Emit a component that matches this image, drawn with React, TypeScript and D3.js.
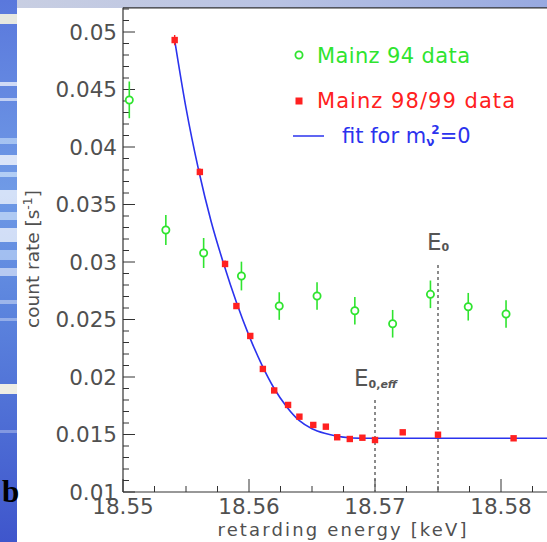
import React from "react";
import * as d3 from "d3";

// ---- data ----
const greenX = [18.5505, 18.5534, 18.5564, 18.5594, 18.5624, 18.5654, 18.5684, 18.5714, 18.5744, 18.5774, 18.5804];
const greenY = [0.04409, 0.03278, 0.03078, 0.02878, 0.02617, 0.02704, 0.02576, 0.02463, 0.02719, 0.02611, 0.02548];
const greenErr = [0.0016, 0.0013, 0.0013, 0.00125, 0.0012, 0.0012, 0.0012, 0.0012, 0.0012, 0.0012, 0.0012];

const redX = [18.5541, 18.5561, 18.5581, 18.559, 18.5601, 18.5611, 18.562, 18.5631, 18.564, 18.5651, 18.5661, 18.567, 18.568, 18.569, 18.570, 18.5722, 18.575, 18.581];
const redY = [0.0493, 0.03783, 0.02983, 0.02617, 0.02357, 0.0207, 0.01883, 0.01757, 0.01655, 0.01583, 0.01568, 0.01476, 0.01461, 0.01472, 0.01452, 0.01519, 0.01498, 0.01467];
const redErr = [0.00045, 0.0003, 0.0003, 0.00025, 0.00025, 0.0002, 0.0002, 0.0002, 0.0002, 0.0002, 0.0002, 0.0002, 0.0002, 0.0002, 0.0002, 0.0002, 0.0002, 0.0002];

const fitX = [18.5541, 18.555, 18.556, 18.557, 18.558, 18.559, 18.56, 18.561, 18.562, 18.563, 18.564, 18.565, 18.566, 18.567, 18.568, 18.569, 18.57, 18.586];
const fitY = [0.0493, 0.0434, 0.038, 0.0335, 0.0298, 0.0265, 0.0236, 0.0211, 0.019, 0.0174, 0.0162, 0.0155, 0.0151, 0.01485, 0.01472, 0.01468, 0.01467, 0.01467];

const xTickLabels = ["18.55", "18.56", "18.57", "18.58"];
const yTickLabels = ["0.01", "0.015", "0.02", "0.025", "0.03", "0.035", "0.04", "0.045", "0.05"];

const E0 = 18.575;
const E0eff = 18.57;

// ---- layout ----
const W = 547, H = 542;
const X0 = 123, Y0 = 492;
const x = d3.scaleLinear().domain([18.55, 18.58]).range([X0, 501]);
const y = d3.scaleLinear().domain([0.01, 0.05]).range([Y0, 32]);
const xMax = 18.586;
const yMax = 0.0521;

const GREEN = "#2fe42f";
const RED = "#ff2020";
const BLUE = "#2b33ee";
const AXIS = "#333";
const TXT = "#505050";
const FONT = "DejaVu Sans, Verdana, sans-serif";

const streaks = [
  [14, 10, 0.85, "#fffbe0"], [82, 4, 0.7, "#ffffff"], [98, 3, 0.6, "#ffffff"],
  [138, 6, 0.5, "#e0f4ff"], [155, 10, 0.75, "#ffffff"], [172, 5, 0.6, "#dff2ff"],
  [190, 14, 0.7, "#ffffff"], [212, 8, 0.55, "#e8f6ff"], [228, 14, 0.7, "#ffffff"],
  [250, 10, 0.5, "#e0f0ff"], [268, 8, 0.55, "#ffffff"], [300, 4, 0.4, "#ffffff"],
  [318, 3, 0.35, "#ffffff"], [384, 10, 0.9, "#fffbe6"], [430, 3, 0.3, "#ffffff"],
];

export default function App() {
  const xMinor = d3.range(18.55, xMax + 1e-9, 0.0025);
  const yMinor = d3.range(0.01, yMax + 1e-9, 0.001);
  const fitLine = d3
    .line<number>()
    .x((_, i) => x(fitX[i]))
    .y((d) => y(d))
    .curve(d3.curveMonotoneX)(fitY) as string;

  const top = y(yMax);

  return (
    <svg
      width={W}
      height={H}
      style={{ position: "absolute", left: 0, top: 0, background: "#fff" }}
      xmlns="http://www.w3.org/2000/svg"
    >
      <defs>
        <linearGradient id="leftBg" x1="0" y1="0" x2="0" y2="1">
          <stop offset="0" stopColor="#5a78dc" />
          <stop offset="0.35" stopColor="#6f9ae6" />
          <stop offset="0.55" stopColor="#5d86de" />
          <stop offset="1" stopColor="#3f56cc" />
        </linearGradient>
        <linearGradient id="topBg" x1="0" y1="0" x2="1" y2="0">
          <stop offset="0" stopColor="#c9cfe2" />
          <stop offset="0.5" stopColor="#b9c3e3" />
          <stop offset="1" stopColor="#97a9e0" />
        </linearGradient>
        <clipPath id="plotClip">
          <rect x={X0} y={top} width={W - X0} height={Y0 - top} />
        </clipPath>
      </defs>

      {/* background decoration */}
      <rect x={0} y={0} width={W} height={H} fill="#fff" />
      <rect x={0} y={0} width={W} height={8} fill="url(#topBg)" />
      <rect x={0} y={0} width={17} height={H} fill="url(#leftBg)" />
      {streaks.map(([sy, sh, op, c], i) => (
        <rect key={i} x={0} y={sy as number} width={17} height={sh as number} fill={c as string} opacity={op as number} />
      ))}

      {/* frame */}
      <line x1={X0} x2={W} y1={top} y2={top} stroke={AXIS} strokeWidth={1.2} />
      <line x1={X0} x2={X0} y1={top} y2={Y0} stroke={AXIS} strokeWidth={1.2} />
      <line x1={X0} x2={W} y1={Y0} y2={Y0} stroke={AXIS} strokeWidth={1.2} />

      {/* y ticks */}
      {yMinor.map((v, i) => {
        const major = Math.abs(Math.round(v * 1000) % 5) === 0;
        return (
          <line key={"ym" + i} x1={X0} x2={X0 + (major ? 12 : 6)} y1={y(v)} y2={y(v)} stroke={AXIS} strokeWidth={1} />
        );
      })}
      {yTickLabels.map((t) => (
        <text key={"yl" + t} x={117} y={y(+t)} textAnchor="end" dominantBaseline="central" fontFamily={FONT} fontSize={21.5} fill={TXT}>
          {t}
        </text>
      ))}

      {/* x ticks */}
      {xMinor.map((v, i) => {
        const major = i % 4 === 0;
        const px = x(v);
        if (px > W) return null;
        return <line key={"xm" + i} x1={px} x2={px} y1={Y0} y2={Y0 - (major ? 13 : 6)} stroke={AXIS} strokeWidth={1} />;
      })}
      {xTickLabels.map((t) => (
        <text key={"xl" + t} x={x(+t)} y={514} textAnchor="middle" fontFamily={FONT} fontSize={21.5} fill={TXT}>
          {t}
        </text>
      ))}

      {/* axis titles */}
      <text x={342} y={536} textAnchor="middle" fontFamily={FONT} fontSize={18} fill={TXT} textLength={249} lengthAdjust="spacing">
        retarding energy  [keV]
      </text>
      <text
        transform={`translate(39,${259}) rotate(-90)`}
        textAnchor="middle"
        fontFamily={FONT}
        fontSize={18.5}
        fill={TXT}
      >
        count rate  [s<tspan dy={-7} fontSize={12.5}>-1</tspan><tspan dy={7}>]</tspan>
      </text>

      {/* "b" label */}
      <text x={2} y={502} fontFamily="Liberation Serif, Times New Roman, serif" fontWeight="bold" fontSize={31} fill="#000">
        b
      </text>

      <g clipPath="url(#plotClip)">
        {/* E0 markers */}
        <line x1={x(E0)} x2={x(E0)} y1={265} y2={Y0} stroke="#666" strokeWidth={1.5} strokeDasharray="3,3" />
        <line x1={x(E0eff)} x2={x(E0eff)} y1={400} y2={Y0} stroke="#666" strokeWidth={1.5} strokeDasharray="3,3" />

        {/* green data */}
        {greenX.map((gx, i) => (
          <g key={"g" + i}>
            <line x1={x(gx)} x2={x(gx)} y1={y(greenY[i] + greenErr[i])} y2={y(greenY[i] - greenErr[i])} stroke={GREEN} strokeWidth={1.6} />
            <circle cx={x(gx)} cy={y(greenY[i])} r={3.6} fill="#fff" stroke={GREEN} strokeWidth={1.8} />
          </g>
        ))}

        {/* fit */}
        <path d={fitLine} fill="none" stroke={BLUE} strokeWidth={1.6} />

        {/* red data */}
        {redX.map((rx, i) => (
          <g key={"r" + i}>
            <line x1={x(rx)} x2={x(rx)} y1={y(redY[i] + redErr[i])} y2={y(redY[i] - redErr[i])} stroke={RED} strokeWidth={1.4} />
            <rect x={x(rx) - 3.2} y={y(redY[i]) - 3.2} width={6.4} height={6.4} fill={RED} />
          </g>
        ))}
      </g>

      {/* E labels */}
      <text x={427} y={250} fontFamily={FONT} fontSize={23} fill="#555">
        E<tspan fontSize={11} fontWeight="bold" dy={1}>0</tspan>
      </text>
      <text x={354} y={386} fontFamily={FONT} fontSize={23} fill="#555">
        E<tspan fontSize={11} fontWeight="bold" dy={2}>0,</tspan>
        <tspan fontSize={11} fontWeight="bold" fontStyle="italic">eff</tspan>
      </text>

      {/* legend */}
      <circle cx={299} cy={55} r={3.6} fill="#fff" stroke={GREEN} strokeWidth={1.8} />
      <text x={317} y={63} fontFamily={FONT} fontSize={21} fill={GREEN} textLength={153} lengthAdjust="spacing">
        Mainz 94 data
      </text>
      <rect x={295.5} y={97.5} width={7} height={7} fill={RED} />
      <text x={317} y={108} fontFamily={FONT} fontSize={21} fill={RED} textLength={198} lengthAdjust="spacing">
        Mainz 98/99 data
      </text>
      <line x1={293} x2={324} y1={136} y2={136} stroke={BLUE} strokeWidth={1.5} />
      <text x={342} y={143} fontFamily={FONT} fontSize={21} fill={BLUE}>
        fit for m<tspan fontSize={12} dy={3} fontWeight="bold">ν</tspan>
        <tspan fontSize={12} dy={-12} dx={-3} fontWeight="bold">2</tspan>
        <tspan dy={9}>=0</tspan>
      </text>
    </svg>
  );
}
